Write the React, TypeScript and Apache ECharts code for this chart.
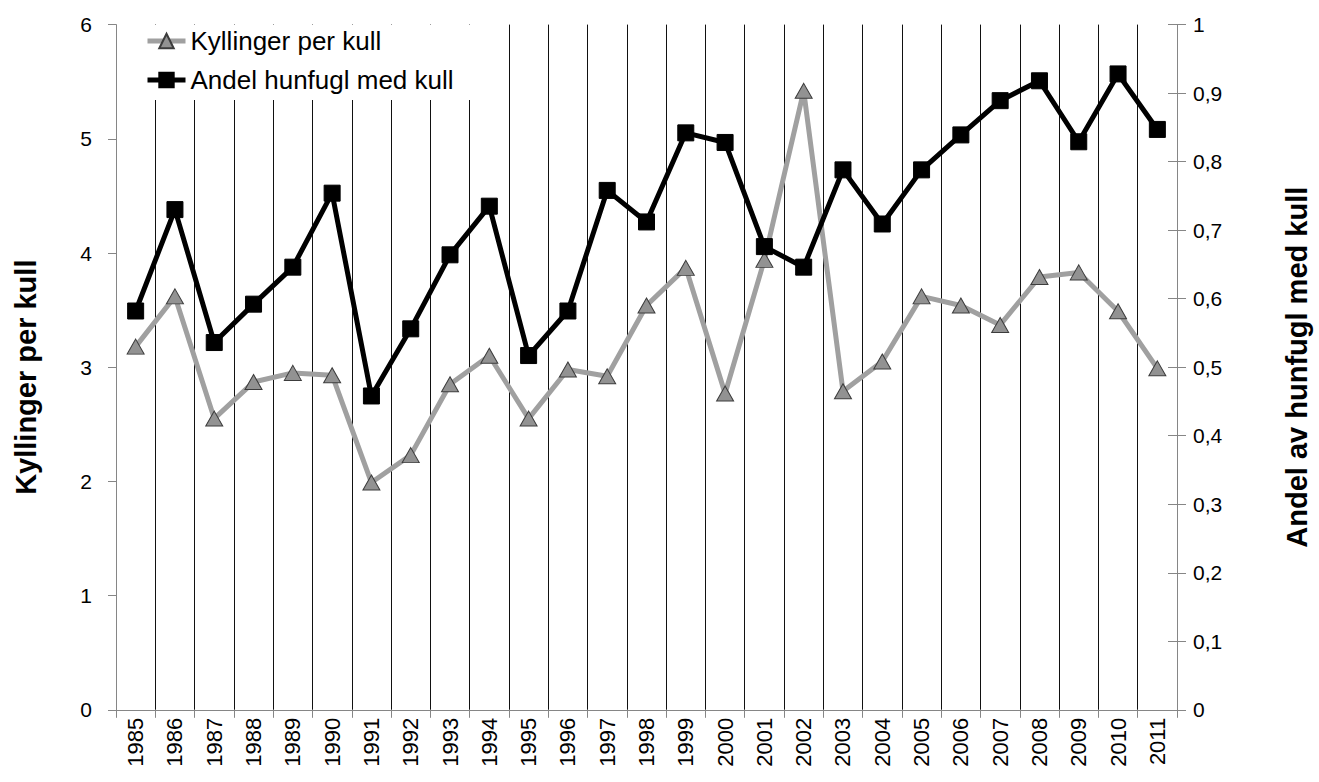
import React, { useEffect, useRef } from "react";
import * as echarts from "echarts";

const years = [
  "1985", "1986", "1987", "1988", "1989", "1990", "1991", "1992", "1993",
  "1994", "1995", "1996", "1997", "1998", "1999", "2000", "2001", "2002",
  "2003", "2004", "2005", "2006", "2007", "2008", "2009", "2010", "2011",
];

const kyllingerPerKull = [
  3.18, 3.62, 2.55, 2.87, 2.95, 2.93, 1.99, 2.23, 2.85, 3.1, 2.55, 2.98, 2.92,
  3.54, 3.87, 2.77, 3.94, 5.42, 2.79, 3.05, 3.62, 3.54, 3.37, 3.79, 3.83, 3.49,
  2.99,
];

const andelHunfuglMedKull = [
  0.582, 0.73, 0.536, 0.592, 0.646, 0.754, 0.458, 0.556, 0.664, 0.735, 0.517,
  0.582, 0.758, 0.712, 0.842, 0.828, 0.676, 0.646, 0.788, 0.709, 0.788, 0.839,
  0.889, 0.918, 0.829, 0.928, 0.847,
];

const seriesNames = ["Kyllinger per kull", "Andel hunfugl med kull"];
const leftAxisName = "Kyllinger per kull";
const rightAxisName = "Andel av hunfugl med kull";

const FONT = "'Liberation Sans', Arial, sans-serif";
const AXIS_GREY = "#868686";

export default function App() {
  const ref = useRef<HTMLDivElement>(null);

  useEffect(() => {
    if (!ref.current) return;
    const chart = echarts.init(ref.current, null, { renderer: "svg" });
    chart.setOption({
      animation: false,
      backgroundColor: "#ffffff",
      textStyle: { fontFamily: FONT, color: "#000" },
      grid: { left: 116, right: 135, top: 24.6, bottom: 72.2, containLabel: false },
      legend: {
        orient: "vertical",
        left: 118,
        top: 25,
        padding: [3, 32, 7, 27],
        itemGap: 13,
        itemWidth: 38,
        itemHeight: 18,
        backgroundColor: "#ffffff",
        lineStyle: { width: 5 },
        textStyle: { fontFamily: FONT, fontSize: 26, color: "#000" },
        data: seriesNames,
      },
      xAxis: {
        type: "category",
        data: years,
        boundaryGap: true,
        axisLine: { show: true, lineStyle: { color: AXIS_GREY, width: 1 } },
        axisTick: { show: true, inside: false, length: 8, lineStyle: { color: AXIS_GREY } },
        splitLine: {
          show: true,
          showMinLine: false,
          showMaxLine: false,
          lineStyle: { color: "#111", width: 1 },
        },
        axisLabel: {
          rotate: 90,
          interval: 0,
          margin: 8,
          fontSize: 22,
          fontFamily: FONT,
          color: "#000",
        },
      },
      yAxis: [
        {
          type: "value",
          min: 0,
          max: 6,
          interval: 1,
          position: "left",
          name: leftAxisName,
          nameLocation: "middle",
          nameRotate: 90,
          nameGap: 76,
          nameTextStyle: {
            fontFamily: FONT,
            fontSize: 29,
            fontWeight: "bold",
            color: "#000",
            padding: [0, 20, 0, 0],
          },
          axisLine: { show: true, lineStyle: { color: AXIS_GREY, width: 1 } },
          axisTick: { show: true, inside: false, length: 8, lineStyle: { color: AXIS_GREY } },
          splitLine: { show: false },
          axisLabel: { margin: 24, fontSize: 21, fontFamily: FONT, color: "#000" },
        },
        {
          type: "value",
          min: 0,
          max: 1,
          interval: 0.1,
          position: "right",
          name: rightAxisName,
          nameLocation: "middle",
          nameRotate: 90,
          nameGap: 105,
          nameTextStyle: { fontFamily: FONT, fontSize: 29, fontWeight: "bold", color: "#000" },
          axisLine: { show: true, lineStyle: { color: AXIS_GREY, width: 1 } },
          axisTick: { show: true, inside: false, length: 9, lineStyle: { color: AXIS_GREY } },
          splitLine: { show: false },
          axisLabel: {
            margin: 16,
            fontSize: 21,
            fontFamily: FONT,
            color: "#000",
            formatter: (v: number) => String(Number(v.toFixed(1))).replace(".", ","),
          },
        },
        {
          type: "value",
          min: 0,
          max: 1,
          interval: 0.1,
          position: "right",
          axisLine: { show: false },
          axisTick: { show: true, inside: true, length: 9, lineStyle: { color: AXIS_GREY } },
          splitLine: { show: false },
          axisLabel: { show: false },
        },
      ],
      series: [
        {
          name: seriesNames[0],
          type: "line",
          yAxisIndex: 0,
          data: kyllingerPerKull,
          symbol: "triangle",
          symbolSize: [17, 15],
          z: 2,
          lineStyle: { color: "#a0a0a0", width: 5 },
          itemStyle: { color: "#929292", borderColor: "#3c3c3c", borderWidth: 1 },
        },
        {
          name: seriesNames[1],
          type: "line",
          yAxisIndex: 1,
          data: andelHunfuglMedKull,
          symbol: "rect",
          symbolSize: 16,
          z: 3,
          lineStyle: { color: "#000", width: 5 },
          itemStyle: { color: "#000", borderColor: "#000", borderWidth: 1 },
        },
      ],
    });
    return () => chart.dispose();
  }, []);

  return (
    <div
      ref={ref}
      style={{ position: "absolute", left: 0, top: 0, width: 1319, height: 782 }}
    />
  );
}
